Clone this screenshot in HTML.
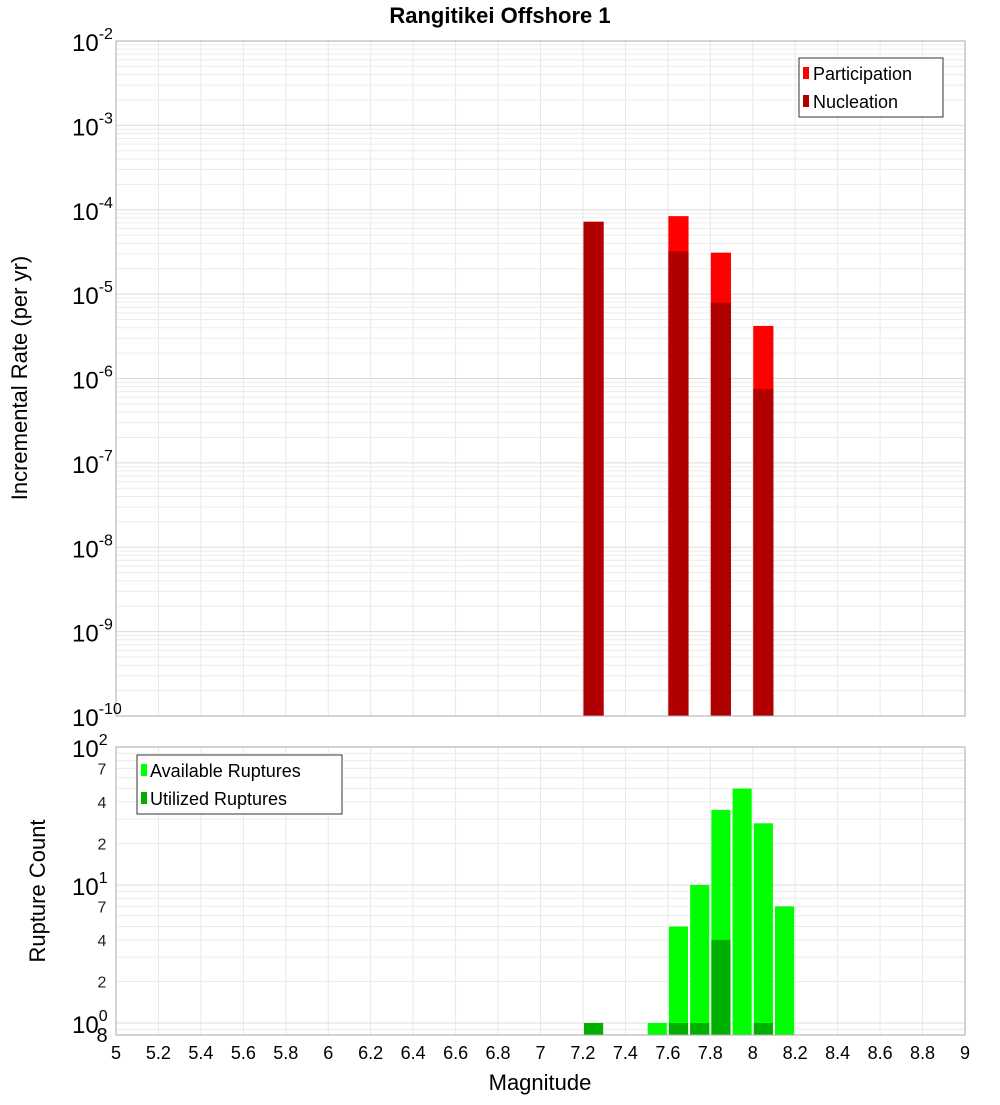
<!DOCTYPE html>
<html><head><meta charset="utf-8"><style>
body{margin:0;background:#fff}
svg text{font-family:"Liberation Sans","DejaVu Sans",sans-serif}
</style></head><body>
<svg id="c" width="1000" height="1100" xmlns="http://www.w3.org/2000/svg"></svg>
<script>
const topMags=[7.25,7.65,7.85,8.05];
const participation=[7.2e-5,8.4e-5,3.1e-5,4.2e-6];
const nucleation=[7.2e-5,3.2e-5,7.9e-6,7.5e-7];
const botMags=[7.25,7.55,7.65,7.75,7.85,7.95,8.05,8.15];
const available=[1,1,5,10,35,50,28,7];
const utilized=[1,0,1,1,4,0,1,0];
const xTicks=["5","5.2","5.4","5.6","5.8","6","6.2","6.4","6.6","6.8","7","7.2","7.4","7.6","7.8","8","8.2","8.4","8.6","8.8","9"];
const topExps=[-2,-3,-4,-5,-6,-7,-8,-9,-10];
const botMinor=[2,4,7];

const svg=document.getElementById('c');const NS='http://www.w3.org/2000/svg';
function el(t,a,p,txt){const e=document.createElementNS(NS,t);for(const k in a)e.setAttribute(k,a[k]);if(txt!==undefined)e.textContent=txt;(p||svg).appendChild(e);return e;}
const L=116,R=965;
const x=m=>L+(m-5)/4*(R-L);
const T0=41,T1=716;const yT=v=>T0+(-2-Math.log10(v))*(T1-T0)/8;
const B0=747,B1=1035,dec=138;const yB=v=>B0+(2-Math.log10(v))*dec;

// title
let t=el('text',{x:500,y:23,'text-anchor':'middle','font-size':22,'font-weight':'bold'},svg,'Rangitikei Offshore 1');


function grid(y0,y1,yfn,decs,name){
  const g=el('g',{});
  for(let i=0;i<=20;i++){el('line',{x1:x(5+i*0.2),x2:x(5+i*0.2),y1:y0,y2:y1,stroke:'#e8e8e8'},g);}
  decs.forEach(d=>{for(let k=1;k<10;k++){const yy=yfn(k*Math.pow(10,d));if(yy>=y0&&yy<=y1)el('line',{x1:L,x2:R,y1:yy,y2:yy,stroke:k==1?'#dcdcdc':'#ececec'},g);}});
}
// top panel
el('rect',{x:L,y:T0,width:R-L,height:T1-T0,fill:'#fff'});
grid(T0,T1,yT,[-10,-9,-8,-7,-6,-5,-4,-3,-2],'top-grid');
const bw=0.095;
topMags.forEach((m,i)=>{
  let r=el('rect',{x:x(m-bw/2),y:yT(participation[i]),width:x(bw)-x(0),height:T1-yT(participation[i]),fill:'#ff0000'});
  
  r=el('rect',{x:x(m-bw/2),y:yT(nucleation[i]),width:x(bw)-x(0),height:T1-yT(nucleation[i]),fill:'#b00000'});
  
});
el('rect',{x:L,y:T0,width:R-L,height:T1-T0,fill:'none',stroke:'#aaa'});
topExps.forEach(e=>{const yy=yT(Math.pow(10,e));
  const g=el('text',{x:72,y:yy+10,'font-size':24});
  el('tspan',{},g,'10');el('tspan',{dy:-12,'font-size':16},g,String(e));});
t=el('text',{transform:'translate(27,378) rotate(-90)','text-anchor':'middle','font-size':22},svg,'Incremental Rate (per yr)');

// top legend
let lg=el('g',{});
el('rect',{x:799,y:58,width:144,height:59,fill:'#fff',stroke:'#333'},lg);
el('rect',{x:803,y:67,width:6,height:12,fill:'#ff0000'},lg);el('text',{x:813,y:80,'font-size':18},lg,'Participation');
el('rect',{x:803,y:95,width:6,height:12,fill:'#b00000'},lg);el('text',{x:813,y:108,'font-size':18},lg,'Nucleation');

// bottom panel
el('rect',{x:L,y:B0,width:R-L,height:B1-B0,fill:'#fff'});
grid(B0,B1,yB,[-1,0,1],'bottom-grid');
const bw2=0.09;
botMags.forEach((m,i)=>{
  let r=el('rect',{x:x(m-bw2/2),y:yB(available[i]),width:x(bw2)-x(0),height:B1-yB(available[i]),fill:'#00ff00'});
  
  if(utilized[i]>0){r=el('rect',{x:x(m-bw2/2),y:yB(utilized[i]),width:x(bw2)-x(0),height:B1-yB(utilized[i]),fill:'#00b000'});
  }
});
el('rect',{x:L,y:B0,width:R-L,height:B1-B0,fill:'none',stroke:'#aaa'});
[2,1,0].forEach(e=>{const yy=yB(Math.pow(10,e));
  const g=el('text',{x:72,y:yy+10,'font-size':24});
  el('tspan',{},g,'10');el('tspan',{dy:-12,'font-size':16},g,String(e));});
[1,0].forEach(e=>botMinor.forEach(k=>{const g=el('text',{x:102,y:yB(k*Math.pow(10,e))+6,'font-size':16,'text-anchor':'middle',fill:'#222'},svg,String(k));}));
t=el('text',{x:102,y:1042,'font-size':20,'text-anchor':'middle'},svg,'8');
t=el('text',{transform:'translate(45,891) rotate(-90)','text-anchor':'middle','font-size':22},svg,'Rupture Count');

lg=el('g',{});
el('rect',{x:137,y:755,width:205,height:59,fill:'#fff',stroke:'#333'},lg);
el('rect',{x:141,y:764,width:6,height:12,fill:'#00ff00'},lg);el('text',{x:150,y:777,'font-size':18},lg,'Available Ruptures');
el('rect',{x:141,y:792,width:6,height:12,fill:'#00b000'},lg);el('text',{x:150,y:805,'font-size':18},lg,'Utilized Ruptures');
xTicks.forEach(s=>{const g=el('text',{x:x(parseFloat(s)),y:1059,'font-size':18,'text-anchor':'middle'},svg,s);});
t=el('text',{x:540,y:1090,'text-anchor':'middle','font-size':22},svg,'Magnitude');

</script>
</body></html>
